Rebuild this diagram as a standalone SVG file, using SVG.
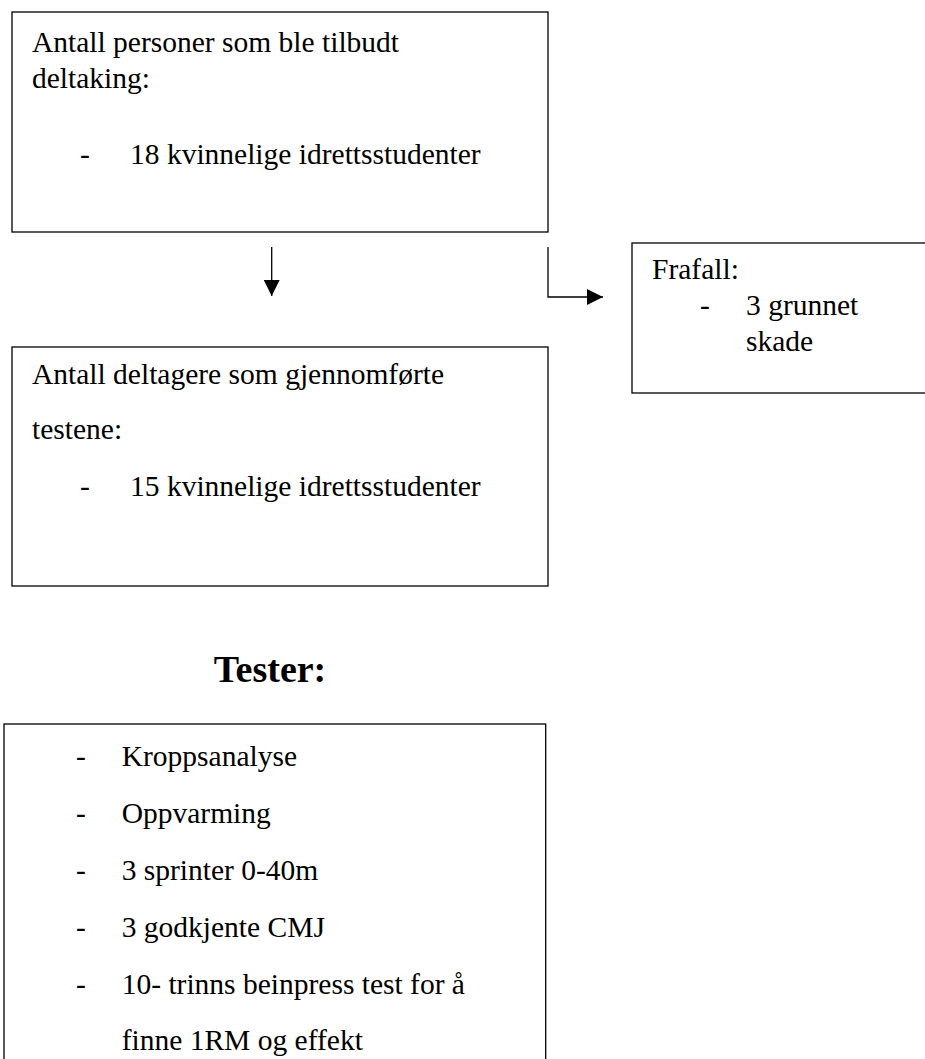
<svg xmlns="http://www.w3.org/2000/svg" width="925" height="1059" viewBox="0 0 925 1059">
<style>
.box{fill:#fff;stroke:#000;stroke-width:1.3}
.t{font-family:"Liberation Serif","Times New Roman",serif;font-size:29.5px;fill:#000}
.h{font-family:"Liberation Serif","Times New Roman",serif;font-size:38px;font-weight:bold;fill:#000}
.c{fill:none;stroke:#000;stroke-width:1.3}
</style>
<defs>
<marker id="ah" markerWidth="16" markerHeight="16" refX="16" refY="8" orient="auto" markerUnits="userSpaceOnUse">
<path d="M0,0 L16,8 L0,16 Z" fill="#000"/>
</marker>
</defs>
<rect width="925" height="1059" fill="#fff"/>
<g id="n1">
<rect class="box" x="12" y="12" width="536" height="220"/>
<text class="t" x="32" y="52">Antall personer som ble tilbudt</text>
<text class="t" x="32" y="88">deltaking:</text>
<text class="t" x="80" y="164">-</text>
<text class="t" x="130" y="164">18 kvinnelige idrettsstudenter</text>
</g>
<g id="n2">
<rect class="box" x="632" y="243" width="310" height="150"/>
<text class="t" x="652" y="279">Frafall:</text>
<text class="t" x="700" y="315">-</text>
<text class="t" x="746" y="315">3 grunnet</text>
<text class="t" x="746" y="351">skade</text>
</g>
<g id="n3">
<rect class="box" x="12" y="347" width="536" height="239"/>
<text class="t" x="32" y="384">Antall deltagere som gjennomførte</text>
<text class="t" x="32" y="439">testene:</text>
<text class="t" x="80" y="496">-</text>
<text class="t" x="130" y="496">15 kvinnelige idrettsstudenter</text>
</g>
<g id="title">
<text class="h" x="270" y="682" text-anchor="middle">Tester:</text>
</g>
<g id="n4">
<rect class="box" x="4" y="724" width="541.7" height="360"/>
<text class="t" x="76" y="766">-</text>
<text class="t" x="121.7" y="766">Kroppsanalyse</text>
<text class="t" x="76" y="823">-</text>
<text class="t" x="121.7" y="823">Oppvarming</text>
<text class="t" x="76" y="880">-</text>
<text class="t" x="121.7" y="880">3 sprinter 0-40m</text>
<text class="t" x="76" y="937">-</text>
<text class="t" x="121.7" y="937">3 godkjente CMJ</text>
<text class="t" x="76" y="994">-</text>
<text class="t" x="121.7" y="994">10- trinns beinpress test for å</text>
<text class="t" x="121.7" y="1050">finne 1RM og effekt</text>
</g>
<g id="connectors">
<path class="c" d="M271.7,247 L271.7,296" marker-end="url(#ah)"/>
<path class="c" d="M548,247 L548,297 L603,297" marker-end="url(#ah)"/>
</g>
</svg>
